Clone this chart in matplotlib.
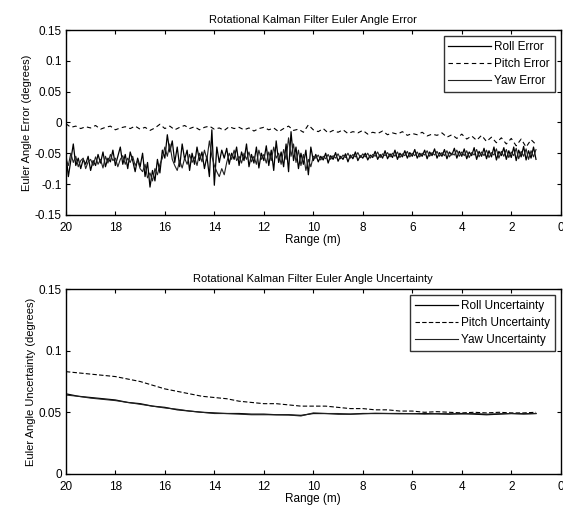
import numpy as np
import matplotlib
matplotlib.use('Agg')
import matplotlib.pyplot as plt

plt.rcParams['font.family'] = ['Liberation Sans', 'DejaVu Sans']

# ---- Euler angle error (deg) vs range (m) ----
range_fine = np.round(np.linspace(20.0, 1.0, 191), 1)
roll_err = [
    -0.050, -0.088, -0.062, -0.035, -0.070, -0.058, -0.075, -0.060, -0.068, -0.055,
    -0.078, -0.062, -0.070, -0.052, -0.066, -0.048, -0.072, -0.058, -0.064, -0.045,
    -0.070, -0.055, -0.040, -0.068, -0.052, -0.075, -0.048, -0.062, -0.080, -0.058,
    -0.072, -0.050, -0.088, -0.065, -0.105, -0.078, -0.095, -0.060, -0.082, -0.045,
    -0.058, -0.020, -0.048, -0.030, -0.065, -0.040, -0.072, -0.035, -0.060, -0.045,
    -0.078, -0.050, -0.068, -0.040, -0.062, -0.048, -0.075, -0.055, -0.088, -0.012,
    -0.102, -0.040, -0.065, -0.045, -0.058, -0.042, -0.068, -0.050, -0.060, -0.040,
    -0.070, -0.048, -0.062, -0.035, -0.072, -0.052, -0.066, -0.040, -0.074, -0.050,
    -0.062, -0.038, -0.070, -0.045, -0.078, -0.030, -0.065, -0.048, -0.072, -0.035,
    -0.080, -0.015, -0.062, -0.040, -0.075, -0.050, -0.068, -0.045, -0.085, -0.040,
    -0.062,
    -0.052, -0.064, -0.055, -0.061, -0.050, -0.066, -0.054, -0.060, -0.049, -0.063,
    -0.055, -0.060, -0.051, -0.064, -0.053, -0.059, -0.048, -0.062, -0.054, -0.058,
    -0.050, -0.061, -0.053, -0.057, -0.047, -0.060, -0.052, -0.058, -0.046, -0.059,
    -0.051, -0.057, -0.045, -0.060, -0.050, -0.056, -0.046, -0.058, -0.049, -0.055,
    -0.044, -0.058, -0.050, -0.055, -0.045, -0.059, -0.048, -0.054, -0.043, -0.058,
    -0.049, -0.055, -0.044, -0.059, -0.048, -0.053, -0.042, -0.058, -0.047, -0.055,
    -0.043, -0.059, -0.048, -0.054, -0.041, -0.060, -0.047, -0.055, -0.042, -0.059,
    -0.046, -0.056, -0.040, -0.061, -0.047, -0.054, -0.041, -0.060, -0.046, -0.057,
    -0.040, -0.062, -0.045, -0.056, -0.039, -0.061, -0.046, -0.058, -0.040, -0.060,
]
yaw_err = [
    -0.060, -0.070, -0.050, -0.065, -0.055, -0.072, -0.062, -0.058, -0.075, -0.064,
    -0.060, -0.070, -0.056, -0.068, -0.060, -0.074, -0.055, -0.066, -0.052, -0.062,
    -0.058, -0.072, -0.060, -0.054, -0.068, -0.058, -0.065, -0.055, -0.070, -0.062,
    -0.075, -0.080, -0.068, -0.090, -0.082, -0.095, -0.075, -0.085, -0.068, -0.058,
    -0.040, -0.055, -0.035, -0.060, -0.070, -0.078, -0.062, -0.074, -0.058, -0.068,
    -0.052, -0.065, -0.056, -0.070, -0.050, -0.064, -0.045, -0.060, -0.030, -0.055,
    -0.070, -0.080, -0.088, -0.075, -0.085, -0.065, -0.050, -0.060, -0.045, -0.062,
    -0.055, -0.066, -0.050, -0.060, -0.048, -0.064, -0.055, -0.068, -0.045, -0.060,
    -0.052, -0.066, -0.048, -0.062, -0.040, -0.058, -0.050, -0.068, -0.044, -0.060,
    -0.025, -0.055, -0.035, -0.065, -0.045, -0.070, -0.052, -0.078, -0.060, -0.072,
    -0.055,
    -0.058, -0.053, -0.061, -0.055, -0.059, -0.052, -0.060, -0.054, -0.058, -0.051,
    -0.059, -0.053, -0.057, -0.050, -0.058, -0.052, -0.056, -0.049, -0.057, -0.051,
    -0.056, -0.050, -0.058, -0.052, -0.055, -0.048, -0.057, -0.051, -0.054, -0.049,
    -0.056, -0.050, -0.055, -0.048, -0.057, -0.051, -0.054, -0.047, -0.056, -0.050,
    -0.054, -0.048, -0.056, -0.050, -0.053, -0.046, -0.055, -0.049, -0.053, -0.047,
    -0.055, -0.049, -0.054, -0.046, -0.056, -0.050, -0.053, -0.045, -0.055, -0.048,
    -0.054, -0.046, -0.057, -0.049, -0.053, -0.044, -0.056, -0.048, -0.054, -0.045,
    -0.057, -0.049, -0.053, -0.043, -0.058, -0.047, -0.055, -0.044, -0.057, -0.048,
    -0.054, -0.042, -0.059, -0.047, -0.055, -0.043, -0.060, -0.046, -0.056, -0.044,
]
range_pitch = np.round(np.linspace(20.0, 1.0, 96), 1)
pitch_err = [
    -0.002, -0.008, -0.006, -0.010, -0.007, -0.009, -0.005, -0.011, -0.008, -0.006,
    -0.012, -0.009, -0.007, -0.010, -0.006, -0.011, -0.008, -0.013, -0.009, -0.003,
    -0.010, -0.006, -0.012, -0.008, -0.005,
    -0.010, -0.007, -0.012, -0.008, -0.006, -0.011, -0.009, -0.013, -0.007, -0.010,
    -0.008, -0.012, -0.009, -0.014, -0.010, -0.008, -0.012, -0.009, -0.015, -0.010,
    -0.006, -0.013, -0.011, -0.016, -0.004,
    -0.012, -0.015, -0.010, -0.017, -0.013, -0.016, -0.012, -0.018, -0.015, -0.017,
    -0.013, -0.019, -0.016, -0.018, -0.014, -0.020, -0.017, -0.019, -0.015, -0.021,
    -0.018, -0.020, -0.016, -0.022, -0.019,
    -0.021, -0.017, -0.024, -0.020, -0.026, -0.019, -0.027, -0.022, -0.029, -0.021,
    -0.031, -0.024, -0.033, -0.025, -0.035, -0.026, -0.038, -0.027, -0.040, -0.028,
    -0.036,
]

# ---- Euler angle uncertainty (deg) vs range (m) ----
range_unc = np.round(np.linspace(20.0, 1.0, 39), 1)
roll_unc = [
    0.065, 0.063, 0.062, 0.061, 0.060, 0.058, 0.057, 0.055, 0.054, 0.052,
    0.051, 0.050, 0.0495, 0.049, 0.049, 0.0485, 0.0485, 0.048, 0.048, 0.0475,
    0.049, 0.049, 0.0485, 0.0485, 0.049, 0.049, 0.049, 0.049, 0.0488, 0.049,
    0.0487, 0.0485, 0.049, 0.0485, 0.048, 0.0485, 0.049, 0.0488, 0.049,
]
pitch_unc = [
    0.083, 0.082, 0.081, 0.080, 0.079, 0.077, 0.075, 0.072, 0.069, 0.067,
    0.065, 0.063, 0.062, 0.061, 0.059, 0.058, 0.057, 0.057, 0.056, 0.055,
    0.055, 0.055, 0.054, 0.053, 0.053, 0.052, 0.052, 0.051, 0.051, 0.050,
    0.0505, 0.050, 0.0495, 0.050, 0.0495, 0.050, 0.0495, 0.0495, 0.050,
]
yaw_unc = [
    0.064, 0.063, 0.0615, 0.0605, 0.0595, 0.058, 0.0565, 0.055, 0.0535, 0.0525,
    0.051, 0.050, 0.049, 0.049, 0.0485, 0.048, 0.048, 0.048, 0.0478, 0.047,
    0.0495, 0.049, 0.049, 0.0485, 0.0488, 0.0492, 0.049, 0.0488, 0.049, 0.0485,
    0.049, 0.0488, 0.0486, 0.049, 0.0485, 0.0488, 0.049, 0.0486, 0.049,
]

fig = plt.figure(figsize=(5.63, 5.09), dpi=100)
ax1 = fig.add_axes([0.117, 0.578, 0.879, 0.363])
ax2 = fig.add_axes([0.117, 0.069, 0.879, 0.363])

legend_kw = dict(loc='upper right', fontsize=8.5, handlelength=3.6,
                 frameon=True, fancybox=False, edgecolor='black',
                 borderaxespad=0.5, labelspacing=0.45, borderpad=0.4,
                 handletextpad=0.3)


def style(ax, yticks, ylabels):
    ax.set_xlim(20, 0)
    ax.set_xticks(range(20, -1, -2))
    ax.set_yticks(yticks)
    ax.set_yticklabels(ylabels)
    ax.tick_params(direction='in', top=True, right=True, labelsize=8.5,
                   length=3, width=0.8, pad=3)
    ax.tick_params(axis='x', pad=5)
    for s in ax.spines.values():
        s.set_linewidth(1.0)
    ax.set_xlabel('Range (m)', fontsize=8.5, labelpad=0)


ax1.plot(range_fine, roll_err, color='black', lw=0.9, label='Roll Error')
ax1.plot(range_pitch, pitch_err, color='black', lw=0.8, ls=(0, (4, 3)),
         label='Pitch Error')
ax1.plot(range_fine, yaw_err, color='#222222', lw=0.8, label='Yaw Error')
ax1.set_ylim(-0.15, 0.15)
style(ax1, [-0.15, -0.1, -0.05, 0, 0.05, 0.1, 0.15],
      ['-0.15', '-0.1', '-0.05', '0', '0.05', '0.1', '0.15'])
ax1.set_title('Rotational Kalman Filter Euler Angle Error', fontsize=8, pad=5)
ax1.set_ylabel('Euler Angle Error (degrees)', fontsize=8, labelpad=2)
ax1.legend(**legend_kw)

ax2.plot(range_unc, roll_unc, color='black', lw=0.9, label='Roll Uncertainty')
ax2.plot(range_unc, pitch_unc, color='black', lw=0.8, ls=(0, (4, 2)),
         label='Pitch Uncertainty')
ax2.plot(range_unc, yaw_unc, color='#222222', lw=0.8, label='Yaw Uncertainty')
ax2.set_ylim(0, 0.15)
style(ax2, [0, 0.05, 0.1, 0.15], ['0', '0.05', '0.1', '0.15'])
ax2.set_title('Rotational Kalman Filter Euler Angle Uncertainty', fontsize=8, pad=5)
ax2.set_ylabel('Euler Angle Uncertainty (degrees)', fontsize=8, labelpad=2)
ax2.legend(**legend_kw)

fig.savefig('out.png', dpi=100)
